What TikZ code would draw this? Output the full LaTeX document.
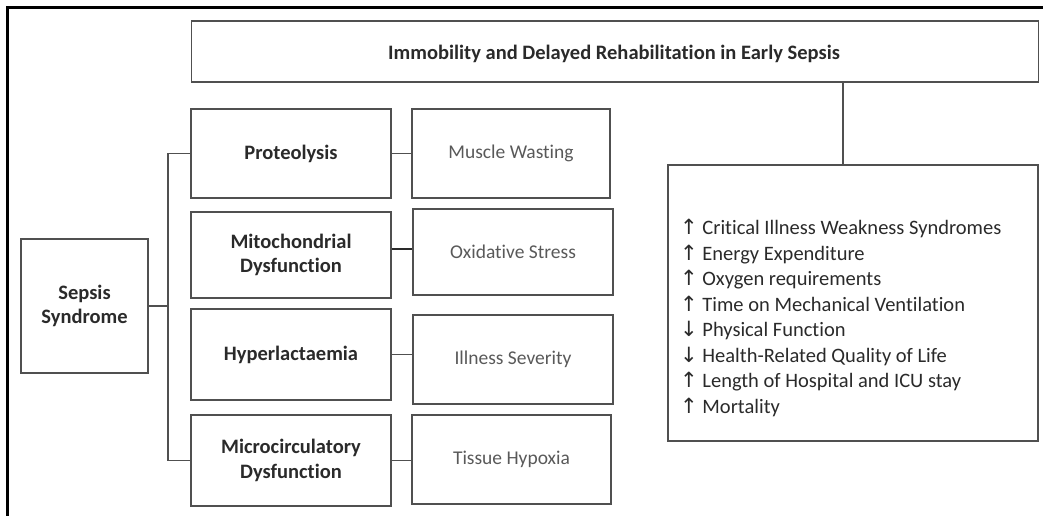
\documentclass[tikz,border=0pt]{standalone}
\usepackage{fontspec}
\setmainfont{Carlito}[RawFeature={-liga;-dlig}]
\newfontfamily\arrowfont{DejaVu Sans}
\usetikzlibrary{calc}
\definecolor{boxgray}{HTML}{505050}
\definecolor{txtdark}{HTML}{2A2A2A}
\definecolor{txtgray}{HTML}{595959}
\tikzset{
  box/.style={draw=boxgray, line width=1.8pt, rectangle, inner sep=0pt, align=center},
  bbox/.style={box, text=txtdark, font=\fontsize{20.5}{24.5}\selectfont\bfseries},
  gbox/.style={box, text=txtgray, font=\fontsize{19.5}{24}\selectfont},
  conn/.style={draw=boxgray, line width=1.8pt},
}
\newcommand{\upa}{{\arrowfont\fontsize{21}{21}\selectfont ↑}}
\newcommand{\dna}{{\arrowfont\fontsize{21}{21}\selectfont ↓}}
\begin{document}
\begin{tikzpicture}[x=1pt,y=-1pt]
\useasboundingbox (0,0) rectangle (1043,516);
% outer frame
\draw[black, line width=3pt] (7,516) -- (7,8) -- (1043,8);

\node[box, minimum width=847pt, minimum height=61pt] (top) at (615,51.5) {};
\node[text=txtdark, font=\fontsize{20.5}{24}\selectfont\bfseries, inner sep=0pt] (toptxt) at (614,54) {Immobility and Delayed Rehabilitation in Early Sepsis};

\node[box, minimum width=370pt, minimum height=276pt] (rb) at (853,303) {};
\node[anchor=north west, inner sep=0pt, align=left, text=txtdark,
      font=\fontsize{20.5}{25.5}\selectfont] (list) at (680,219)
{\upa{} Critical Illness Weakness Syndromes\\
 \upa{} Energy Expenditure\\
 \upa{} Oxygen requirements\\
 \upa{} Time on Mechanical Ventilation\\
 \dna{} Physical Function\\
 \dna{} Health-Related Quality of Life\\
 \upa{} Length of Hospital and ICU stay\\
 \upa{} Mortality};

\node[bbox, minimum width=127pt, minimum height=134pt] (sepsis) at (84.5,306) {Sepsis\\Syndrome};

\node[bbox, minimum width=200pt, minimum height=89pt] (prot) at (291,153.5) {Proteolysis};
\node[bbox, minimum width=200pt, minimum height=86pt] (mito) at (291,255) {Mitochondrial\\Dysfunction};
\node[bbox, minimum width=200pt, minimum height=91pt] (hyper) at (291,354.5) {Hyperlactaemia};
\node[bbox, minimum width=200pt, minimum height=91pt] (micro) at (291,460.5) {Microcirculatory\\Dysfunction};

\node[gbox, minimum width=198pt, minimum height=89pt] (muscle) at (511,153.5) {Muscle Wasting};
\node[gbox, minimum width=200pt, minimum height=86pt] (oxid) at (513,252) {Oxidative Stress};
\node[gbox, minimum width=200pt, minimum height=89pt] (ill) at (513,359.5) {Illness Severity};
\node[gbox, minimum width=199pt, minimum height=89pt] (tissue) at (511.5,459.5) {Tissue Hypoxia};

% bracket
\coordinate (bx) at (168,0);
\draw[conn] (prot.west) -- (prot.west -| bx) -- (micro.west -| bx) -- (micro.west);
\draw[conn] (sepsis.east) -- (sepsis.east -| bx);

% pairs
\draw[conn] (prot.east) -- (prot.east -| muscle.west);
\draw[conn, draw=txtdark] ($(mito.east)+(0,-6)$) -- ($(mito.east -| oxid.west)+(0,-6)$);
\draw[conn] (hyper.east) -- (hyper.east -| ill.west);
\draw[conn] (micro.east) -- (micro.east -| tissue.west);

% top to right box
\coordinate (vx) at (843,0);
\draw[conn] (top.south -| vx) -- (rb.north -| vx);
\end{tikzpicture}
\end{document}
